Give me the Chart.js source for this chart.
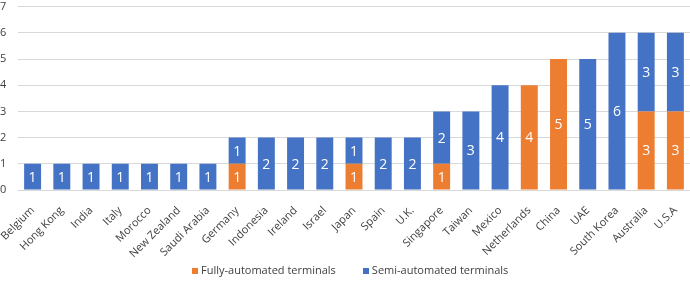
<!DOCTYPE html>
<html>
<head>
<meta charset="utf-8">
<script src="https://cdn.jsdelivr.net/npm/chart.js@4/dist/chart.umd.min.js"></script>
<style>
  html, body { margin: 0; padding: 0; background: #fff; }
  #wrap { position: relative; width: 690px; height: 287px; }
  #legend { position: absolute; left: 192px; top: 263px; display: flex; gap: 27px;
            font: 11px "Open Sans", sans-serif; color: #404040; line-height: 14px; }
  #legend .sw { display: inline-block; width: 6px; height: 6px; margin-right: 3px; vertical-align: 0; }
</style>
</head>
<body>
<div id="wrap"><canvas id="c"></canvas><div id="legend"></div></div>
<script>
var countries = ['Belgium', 'Hong Kong', 'India', 'Italy', 'Morocco', 'New Zealand', 'Saudi Arabia',
  'Germany', 'Indonesia', 'Ireland', 'Israel', 'Japan', 'Spain', 'U.K.', 'Singapore', 'Taiwan',
  'Mexico', 'Netherlands', 'China', 'UAE', 'South Korea', 'Australia', 'U.S.A'];
var fullyAuto = [0, 0, 0, 0, 0, 0, 0, 1, 0, 0, 0, 1, 0, 0, 1, 0, 0, 4, 5, 0, 0, 3, 3];
var semiAuto  = [1, 1, 1, 1, 1, 1, 1, 1, 2, 2, 2, 1, 2, 2, 2, 3, 4, 0, 0, 5, 6, 3, 3];
var yTicks = [0, 1, 2, 3, 4, 5, 6, 7];

// 막대 안쪽 가운데에 값 표시
var innerLabels = {
  id: 'innerLabels',
  afterDatasetsDraw: function(chart) {
    var ctx = chart.ctx;
    ctx.save();
    ctx.fillStyle = '#fff';
    ctx.font = '14px "Open Sans", sans-serif';
    ctx.textAlign = 'center';
    ctx.textBaseline = 'middle';
    chart.data.datasets.forEach(function(ds, di) {
      chart.getDatasetMeta(di).data.forEach(function(bar, i) {
        var v = ds.data[i];
        if (!v) return;
        ctx.fillText(String(v), bar.x, (bar.y + bar.base) / 2 + 1);
      });
    });
    ctx.restore();
  }
};

Chart.defaults.font.family = '"Open Sans", sans-serif';
Chart.defaults.font.size = 11;
Chart.defaults.color = '#404040';

var chart = new Chart(document.getElementById('c'), {
  type: 'bar',
  data: {
    labels: countries,
    datasets: [
      { label: 'Fully-automated terminals', data: fullyAuto, backgroundColor: '#ED7D31', barPercentage: 0.58, categoryPercentage: 1 },
      { label: 'Semi-automated terminals', data: semiAuto, backgroundColor: '#4472C4', barPercentage: 0.58, categoryPercentage: 1 }
    ]
  },
  options: {
    responsive: true, maintainAspectRatio: false, animation: false,
    layout: { padding: 0 },
    plugins: {
      tooltip: { enabled: false },
      legend: { display: false }
    },
    scales: {
      x: {
        stacked: true,
        afterFit: function(ax) { ax.height = 97; ax.paddingLeft = 0; ax.paddingRight = 0; },
        grid: { display: false },
        border: { color: '#d9d9d9' },
        ticks: { minRotation: 45, maxRotation: 45, autoSkip: false, padding: 6, font: { size: 11 } }
      },
      y: {
        stacked: true, min: 0, max: 7,
        afterBuildTicks: function(ax) { ax.ticks = yTicks.map(function(v){ return { value: v }; }); },
        afterFit: function(ax) { ax.width = 18; },
        grid: { color: '#d9d9d9', drawTicks: false },
        border: { display: false },
        ticks: { padding: 0, crossAlign: 'far', font: { size: 11 } }
      }
    }
  },
  plugins: [innerLabels]
});

// 범례 — HTML
document.getElementById('legend').innerHTML = chart.data.datasets.map(function(ds){
  return '<span><span class="sw" style="background:' + ds.backgroundColor + '"></span>' + ds.label + '</span>';
}).join('');
</script>
</body>
</html>
